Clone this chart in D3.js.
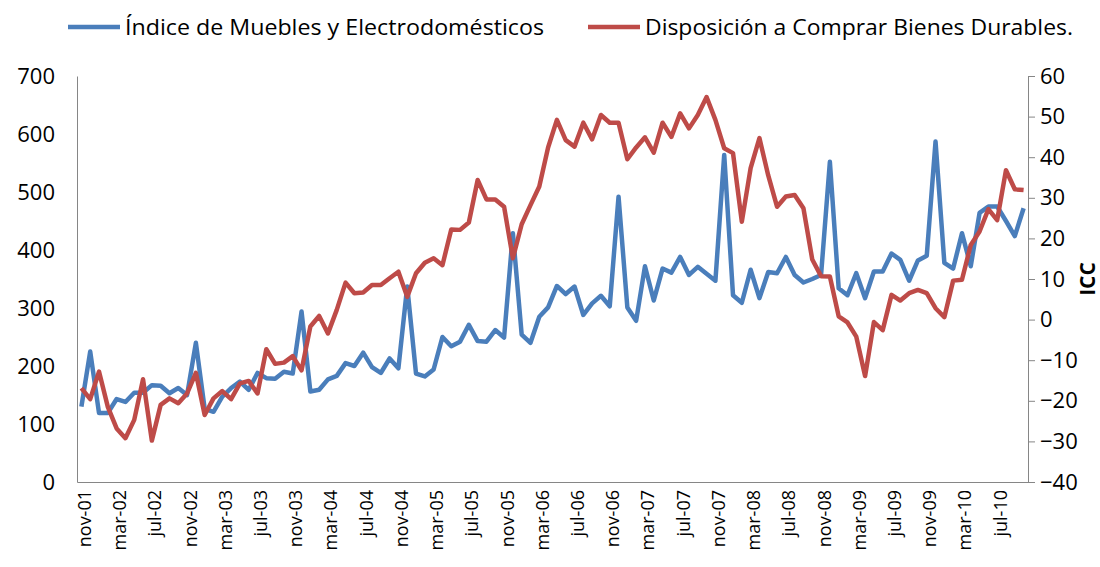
<!DOCTYPE html>
<meta charset='utf-8'>
<style>
  body { margin: 0; background: #fff; font-family: 'Open Sans', 'Noto Sans', sans-serif; }
  .axis path, .axis line { stroke: #868686; }
  .axis text { fill: #000; font-family: 'Open Sans', 'Noto Sans', sans-serif; }
  .legend text { font-size: 21px; fill: #000; }
</style>
<body>
<div id='viz'></div>
<script src='https://d3js.org/d3.v7.min.js'></script>
<script>

// monthly categories, nov-01 .. oct-10
var monthNames = ['ene','feb','mar','abr','may','jun','jul','ago','sep','oct','nov','dic'];
var months = d3.timeMonth.range(new Date(2001, 10, 1), new Date(2010, 10, 1))
  .map(function(d){ return monthNames[d.getMonth()] + '-' + String(d.getFullYear()).slice(2); });

// Índice de Muebles y Electrodomésticos (left axis)
var muebles = [130, 225, 119, 119, 143, 138, 154, 154, 167, 166, 153, 162,
               150, 240, 126, 121, 147, 162, 173, 159, 188, 179, 178, 190,
               187, 294, 156, 159, 177, 183, 205, 200, 223, 198, 188, 213,
               196, 337, 187, 182, 194, 250, 234, 242, 271, 243, 242, 262,
               249, 429, 254, 240, 285, 301, 338, 324, 337, 288, 308, 321,
               303, 492, 301, 278, 372, 313, 368, 361, 388, 357, 371, 359,
               347, 564, 322, 309, 366, 317, 362, 360, 388, 357, 344, 350,
               357, 552, 334, 322, 360, 317, 363, 363, 394, 383, 347, 382,
               390, 587, 378, 368, 429, 372, 464, 475, 475, 450, 424, 472];

// Disposición a Comprar Bienes Durables (right axis, ICC)
var durables = [-16.9, -19.6, -12.8, -21.5, -26.8, -29.2, -24.7, -14.7, -29.8, -21.0, -19.4, -20.6,
                -18.2, -13.1, -23.5, -19.4, -17.6, -19.6, -15.7, -15.1, -18.2, -7.3, -10.9, -10.6,
                -9.0, -12.5, -1.7, 0.9, -3.4, 2.4, 9.1, 6.5, 6.7, 8.5, 8.5, 10.2,
                11.8, 5.6, 11.4, 14.0, 15.1, 13.4, 22.2, 22.1, 23.9, 34.4, 29.6, 29.6,
                27.8, 15.1, 23.5, 28.2, 32.8, 42.4, 49.2, 44.2, 42.6, 48.5, 44.4, 50.4,
                48.5, 48.5, 39.5, 42.4, 44.9, 41.1, 48.5, 45.0, 50.8, 47.1, 50.4, 54.8,
                49.2, 42.2, 41.0, 24.1, 37.3, 44.7, 35.5, 27.8, 30.3, 30.7, 27.4, 14.8,
                10.7, 10.6, 0.8, -0.7, -4.2, -13.9, -0.6, -2.6, 6.1, 4.7, 6.5, 7.3,
                6.5, 2.8, 0.6, 9.6, 9.8, 18.4, 21.7, 27.2, 24.5, 36.8, 32.1, 31.9];

var leftTicks  = [0, 100, 200, 300, 400, 500, 600, 700];
var rightTicks = [-40, -30, -20, -10, 0, 10, 20, 30, 40, 50, 60];
var seriesNames = ['Índice de Muebles y Electrodomésticos', 'Disposición a Comprar Bienes Durables.'];
var colors = ['#4a7ebb', '#be4b48'];

var W = 1100, H = 567;
var margin = {top: 76, right: 72, bottom: 85, left: 77},
    width = W - margin.left - margin.right,
    height = H - margin.top - margin.bottom;

var x = d3.scalePoint().domain(months).range([0, width]).padding(0.5);
var yL = d3.scaleLinear().domain([0, 700]).range([height, 0]);
var yR = d3.scaleLinear().domain([-40, 60]).range([height, 0]);

var svg = d3.select('#viz').append('svg')
    .attr('width', W)
    .attr('height', H);

var g = svg.append('g')
    .attr('transform', 'translate(' + margin.left + ',' + margin.top + ')');

// left axis
var axL = g.append('g')
    .attr('class', 'axis')
    .call(d3.axisLeft(yL).tickValues(leftTicks).tickSize(0).tickPadding(22));
axL.attr('font-family', null);
axL.selectAll('text').attr('font-size', 22);

// right axis
var axR = g.append('g')
    .attr('class', 'axis')
    .attr('transform', 'translate(' + width + ',0)')
    .call(d3.axisRight(yR).tickValues(rightTicks).tickSizeInner(7).tickSizeOuter(0).tickPadding(5));
axR.attr('font-family', null);
axR.selectAll('text').attr('font-size', 22);

// bottom axis
var axB = g.append('g')
    .attr('class', 'axis')
    .attr('transform', 'translate(0,' + height + ')')
    .call(d3.axisBottom(x)
      .tickValues(months.filter(function(d, i){ return i % 4 === 0; }))
      .tickSize(0));
axB.attr('font-family', null);
axB.selectAll('text')
    .attr('font-size', 18)
    .attr('text-anchor', 'end')
    .attr('transform', 'rotate(-90)')
    .attr('x', -8)
    .attr('y', 0)
    .attr('dy', '0.5em');

// ICC title
svg.append('text')
    .attr('transform', 'translate(1095,' + (margin.top + height / 2) + ') rotate(-90)')
    .attr('text-anchor', 'middle')
    .attr('font-size', 21)
    .attr('font-weight', 'bold')
    .text('ICC');

// lines
var lineL = d3.line()
    .x(function(d, i){ return x(months[i]); })
    .y(function(d){ return yL(d); });
var lineR = d3.line()
    .x(function(d, i){ return x(months[i]); })
    .y(function(d){ return yR(d); });

g.append('path')
    .datum(muebles)
    .attr('fill', 'none')
    .attr('stroke', colors[0])
    .attr('stroke-width', 4.5)
    .attr('stroke-linejoin', 'round')
    .attr('d', lineL);

g.append('path')
    .datum(durables)
    .attr('fill', 'none')
    .attr('stroke', colors[1])
    .attr('stroke-width', 4.5)
    .attr('stroke-linejoin', 'round')
    .attr('d', lineR);

// legend
var legend = svg.append('g').attr('class', 'legend');
var legendX = [68, 588];
var legendLen = [419, 428];
seriesNames.forEach(function(name, i){
  legend.append('line')
      .attr('x1', legendX[i]).attr('x2', legendX[i] + 52)
      .attr('y1', 27).attr('y2', 27)
      .attr('stroke', colors[i])
      .attr('stroke-width', 4.5);
  legend.append('text')
      .attr('x', legendX[i] + 57)
      .attr('y', 35)
      .attr('textLength', legendLen[i])
      .attr('lengthAdjust', 'spacingAndGlyphs')
      .text(name);
});

</script>
</body>
